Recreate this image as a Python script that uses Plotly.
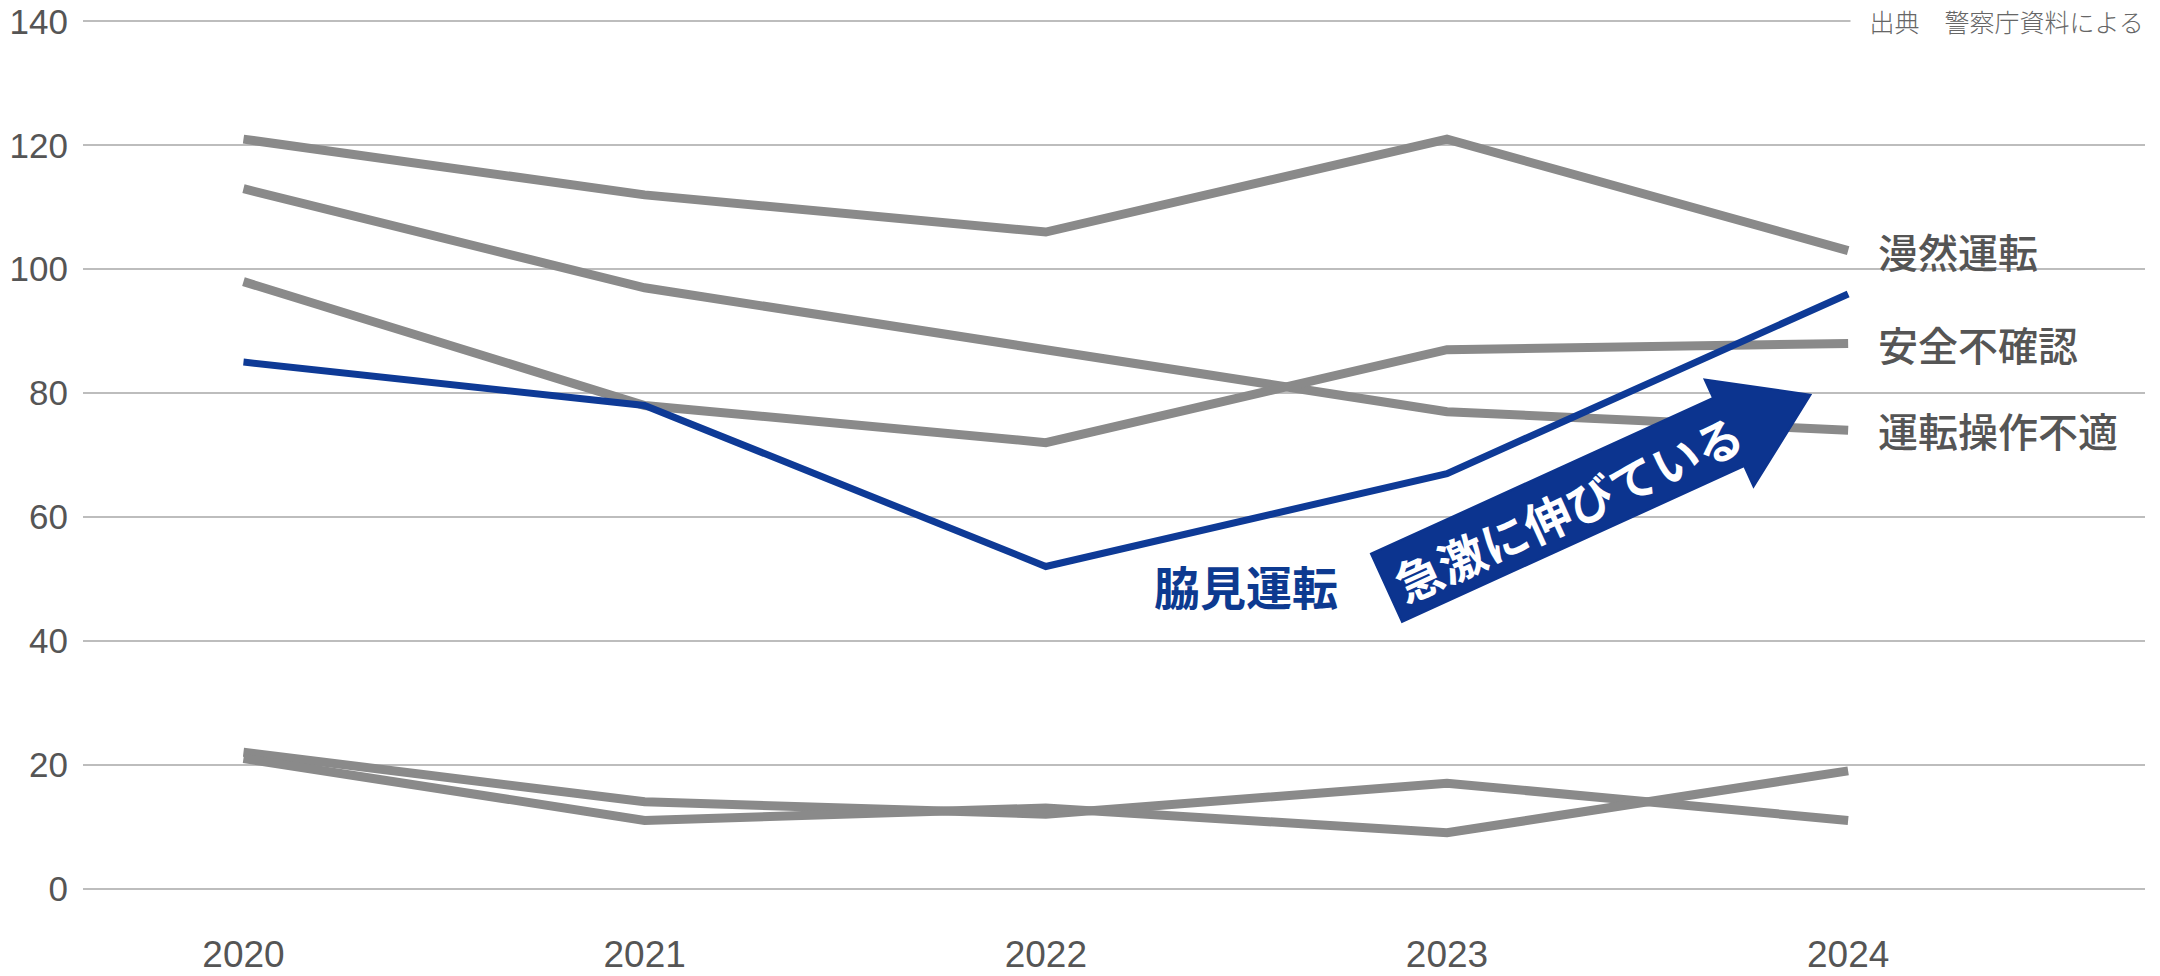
import math
import plotly.graph_objects as go

# data
YEARS = [2020, 2021, 2022, 2023, 2024]
YEAR_LABELS = ["2020", "2021", "2022", "2023", "2024"]
Y_TICKS = [0, 20, 40, 60, 80, 100, 120, 140]

MANZEN = [121, 112, 106, 121, 103]      # 漫然運転
SOUSA = [113, 97, 87, 77, 74]           # 運転操作不適
KAKUNIN = [98, 78, 72, 87, 88]          # 安全不確認
WAKIMI = [85, 78, 52, 67, 96]           # 脇見運転
OTHER_A = [22, 14, 12, 17, 11]
OTHER_B = [21, 11, 13, 9, 19]

GRAY_SERIES = [
    ("漫然運転", MANZEN, True),
    ("運転操作不適", SOUSA, True),
    ("安全不確認", KAKUNIN, True),
    ("その他A", OTHER_A, False),
    ("その他B", OTHER_B, False),
]

SOURCE_TEXT = "出典　警察庁資料による"
ARROW_TEXT = "急激に伸びている"
WAKIMI_LABEL = "脇見運転"

#layout (page has an 8px body margin, so the figure is a bit smaller)
PAGE_OFF = 8
W, H = 2160 - PAGE_OFF, 976 - PAGE_OFF
Y_PAD = 0.4
L, R, T, B = 75, 15, 10.5, 84.5
PW, PH = W - L - R, H - T - B
GRAY = "#8a8a8a"
BLUE = "#0e3a96"
TEXT_GRAY = "#555555"
JP_FONT = "Noto Sans CJK JP"
NUM_FONT = "Liberation Sans, Arial, sans-serif"


def to_paper(px, py):
    # px, py are page pixels as measured on the reference
    px -= PAGE_OFF
    py -= PAGE_OFF
    return (px - L) / PW, (H - B - py) / PH


def arrow_path(ox, oy, angle_deg, pts):
    a = math.radians(angle_deg)
    u = (math.cos(a), -math.sin(a))
    n = (math.sin(a), math.cos(a))
    out = []
    for along, across in pts:
        sx = ox + along * u[0] + across * n[0]
        sy = oy + along * u[1] + across * n[1]
        out.append(to_paper(sx, sy))
    return "M " + " L ".join(f"{x:.5f},{y:.5f}" for x, y in out) + " Z"


fig = go.Figure()

for name, vals, _ in GRAY_SERIES:
    fig.add_trace(go.Scatter(
        x=YEARS, y=vals, mode="lines", name=name,
        line=dict(color=GRAY, width=9),
        hoverinfo="skip"
    ))

fig.add_trace(go.Scatter(
    x=YEARS, y=WAKIMI, mode="lines", name=WAKIMI_LABEL,
    line=dict(color=BLUE, width=7),
    hoverinfo="skip"
))

annotations = []
for name, vals, labelled in GRAY_SERIES:
    if not labelled:
        continue
    annotations.append(dict(
        x=YEARS[-1], y=vals[-1], xref="x", yref="y",
        text=name, showarrow=False, xanchor="left", yanchor="middle",
        xshift=28, font=dict(family=JP_FONT, size=40, color=TEXT_GRAY, weight=500)
    ))

annotations.append(dict(
    x=2022.5, y=49, xref="x", yref="y", text=WAKIMI_LABEL, showarrow=False,
    xanchor="center", yanchor="middle",
    font=dict(family=JP_FONT, size=46, color="#0d3a90", weight=700)
))

# source note sits on the 140 gridline, white box hides the line behind it
annotations.append(dict(
    x=1, y=140, xref="paper", yref="y", text="&nbsp;&nbsp;&nbsp;" + SOURCE_TEXT, showarrow=False,
    xanchor="right", yanchor="middle", xshift=2, bgcolor="white", borderpad=2,
    font=dict(family=JP_FONT, size=25, color="#666666", weight=300)
))

# arrow "急激に伸びている"
ARROW_ORIGIN = (1386.5, 588)
ARROW_ANGLE = 24.5
ARROW_PTS = [(0, -37.5), (376, -37.5), (376, -58), (466, 0), (376, 60), (376, 37.5), (0, 37.5)]

shapes = [dict(
    type="path", xref="paper", yref="paper",
    path=arrow_path(ARROW_ORIGIN[0], ARROW_ORIGIN[1], ARROW_ANGLE, ARROW_PTS),
    fillcolor="#0c348f", line=dict(color="#0c348f", width=2), layer="above"
)]

a = math.radians(ARROW_ANGLE)
tx = ARROW_ORIGIN[0] + 198 * math.cos(a) + 2 * math.sin(a)
ty = ARROW_ORIGIN[1] - 198 * math.sin(a) + 2 * math.cos(a)
tpx, tpy = to_paper(tx, ty)
annotations.append(dict(
    x=tpx, y=tpy, xref="paper", yref="paper", text=ARROW_TEXT, showarrow=False,
    xanchor="center", yanchor="middle", textangle=-ARROW_ANGLE,
    font=dict(family=JP_FONT, size=47, color="white", weight=700)
))

fig.update_xaxes(
    range=[2019.60, 2024.74],
    tickmode="array", tickvals=YEARS, ticktext=YEAR_LABELS,
    showgrid=False, zeroline=False, showline=False, ticks="",
    ticklabelstandoff=38, ticklabeloverflow="allow",
    tickfont=dict(family=NUM_FONT, size=37, color=TEXT_GRAY),
    automargin=False
)

fig.update_yaxes(
    range=[-Y_PAD, 140 + Y_PAD],
    tickmode="array", tickvals=Y_TICKS,
    showgrid=True, gridcolor="#bdbdbd", gridwidth=2,
    zeroline=False, showline=False, ticks="",
    ticklabelstandoff=14, ticklabeloverflow="allow",
    tickfont=dict(family=NUM_FONT, size=35, color=TEXT_GRAY),
    automargin=False
)

fig.update_layout(
    width=W, height=H,
    margin=dict(l=L, r=R, t=T, b=B),
    paper_bgcolor="white", plot_bgcolor="white",
    showlegend=False,
    annotations=annotations,
    shapes=shapes,
    hovermode=False
)

fig.write_html("out.html", config={"displayModeBar": False})
